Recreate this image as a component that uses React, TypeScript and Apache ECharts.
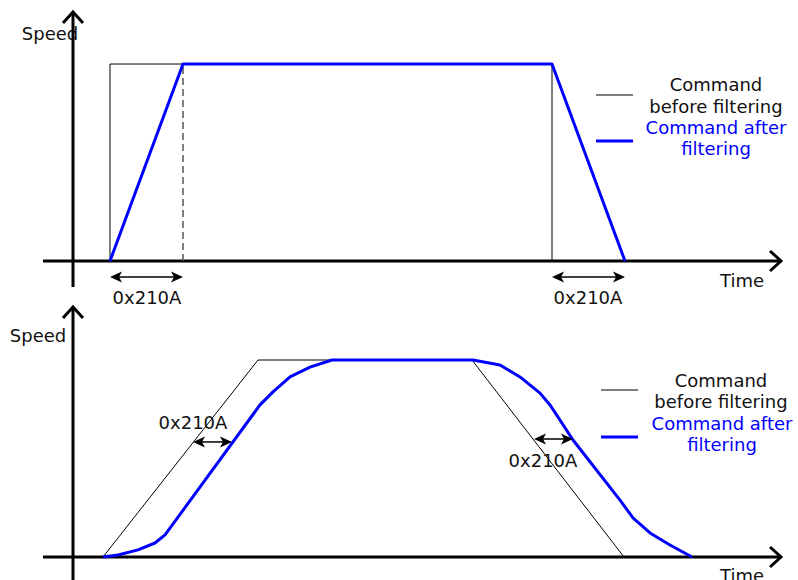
import React, { useEffect, useRef } from "react";
import * as echarts from "echarts";

// ---------- Data (time in arbitrary units from the Speed axis, speed in % of command) ----------
// Top panel: step command and its ramp-filtered version
const topCommandTime = [37, 37, 479, 479];
const topCommandSpeed = [0, 100, 100, 0];
const topFilteredTime = [37, 110, 479, 552];
const topFilteredSpeed = [0, 100, 100, 0];
const topGuideTime = [110, 110];
const topGuideSpeed = [0, 100];

// Bottom panel: trapezoid command and its S-curve filtered version
const bottomCommandTime = [30, 185, 399, 551];
const bottomCommandSpeed = [0, 100, 100, 0];
const bottomFilteredTime = [30, 45, 65, 82, 92, 187, 200, 217, 237, 259, 400, 427, 447, 467, 477, 500, 547, 560, 577, 597, 619];
const bottomFilteredSpeed = [0, 1.0, 3.6, 7.1, 11.2, 77.2, 83.8, 91.4, 96.4, 100, 100, 97.5, 91.4, 83.2, 77.2, 59.4, 28.9, 19.8, 12.2, 6.1, 0];

// Delay annotations: from time, to time, speed, label time, label speed
const delayLabel = "0x210A";
const topDelayFrom = [37, 479];
const topDelayTo = [110, 552];
const topDelaySpeed = [-8.1, -8.1];
const topDelayLabelTime = [74, 515];
const topDelayLabelSpeed = [-18.3, -18.3];
const bottomDelayFrom = [120, 461];
const bottomDelayTo = [159, 500];
const bottomDelaySpeed = [58.4, 59.9];
const bottomDelayLabelTime = [120, 470];
const bottomDelayLabelSpeed = [68.5, 49.2];

// Legend and axis texts
const legendBefore = ["Command", "before filtering"];
const legendAfter = ["Command after", "filtering"];
const speedLabel = "Speed";
const timeLabel = "Time";

const FONT = '18px "DejaVu Sans"';
const BLUE = "#0000ff";
const INK = "#111111";

const zip = (xs: number[], ys: number[]) => xs.map((x, i) => [x, ys[i]]);

function axisArrowItem(params: any, api: any) {
  const p1 = api.coord([api.value(0), api.value(1)]);
  const p2 = api.coord([api.value(2), api.value(3)]);
  const dx = p2[0] - p1[0];
  const dy = p2[1] - p1[1];
  const len = Math.hypot(dx, dy) || 1;
  const ux = dx / len;
  const uy = dy / len;
  const back = 11;
  const side = 10;
  const bx = p2[0] - ux * back;
  const by = p2[1] - uy * back;
  const a1 = [bx - uy * side, by + ux * side];
  const a2 = [bx + uy * side, by - ux * side];
  return {
    type: "group",
    children: [
      { type: "line", shape: { x1: p1[0], y1: p1[1], x2: p2[0], y2: p2[1] }, style: { stroke: "#000", lineWidth: 3 } },
      { type: "polyline", shape: { points: [a1, p2, a2] }, style: { stroke: "#000", lineWidth: 3, fill: null } },
    ],
  };
}

function delayArrowItem(params: any, api: any) {
  const a = api.coord([api.value(0), api.value(2)]);
  const b = api.coord([api.value(1), api.value(2)]);
  const t = api.coord([api.value(3), api.value(4)]);
  const head = 12;
  const half = 5.5;
  const notch = 9;
  return {
    type: "group",
    children: [
      { type: "line", shape: { x1: a[0] + notch, y1: a[1], x2: b[0] - notch, y2: b[1] }, style: { stroke: "#000", lineWidth: 1.5 } },
      {
        type: "polygon",
        shape: { points: [[a[0], a[1]], [a[0] + head, a[1] - half], [a[0] + notch, a[1]], [a[0] + head, a[1] + half]] },
        style: { fill: "#000" },
      },
      {
        type: "polygon",
        shape: { points: [[b[0], b[1]], [b[0] - head, b[1] - half], [b[0] - notch, b[1]], [b[0] - head, b[1] + half]] },
        style: { fill: "#000" },
      },
      {
        type: "text",
        x: t[0],
        y: t[1],
        style: { text: delayLabel, fill: INK, font: FONT, align: "center", verticalAlign: "middle" },
      },
    ],
  };
}

function text(str: string, x: number, y: number, color: string) {
  return {
    type: "text",
    x,
    y,
    silent: true,
    style: { text: str, fill: color, font: FONT, align: "center", verticalAlign: "middle", textAlign: "center", textVerticalAlign: "middle" },
  };
}

function hline(x1: number, x2: number, y: number, color: string, w: number) {
  return { type: "line", silent: true, shape: { x1, y1: y, x2, y2: y }, style: { stroke: color, lineWidth: w } };
}

export default function App() {
  const ref = useRef<HTMLDivElement>(null);

  useEffect(() => {
    if (!ref.current) return;
    const chart = echarts.init(ref.current, undefined, { renderer: "svg" });

    const lineBase = { type: "line", showSymbol: false, symbol: "none", silent: true, animation: false };

    const option: any = {
      animation: false,
      backgroundColor: "#ffffff",
      grid: [
        { left: 0, top: 0, width: 798, height: 300 },
        { left: 0, top: 300, width: 798, height: 280 },
      ],
      xAxis: [
        { type: "value", gridIndex: 0, min: -73, max: 725, show: false },
        { type: "value", gridIndex: 1, min: -73, max: 725, show: false },
      ],
      yAxis: [
        { type: "value", gridIndex: 0, min: -19.8, max: 132.5, show: false },
        { type: "value", gridIndex: 1, min: -11.68, max: 130.46, show: false },
      ],
      series: [
        {
          type: "custom",
          name: "axes-top",
          xAxisIndex: 0,
          yAxisIndex: 0,
          clip: false,
          silent: true,
          renderItem: axisArrowItem,
          encode: { x: [0, 2], y: [1, 3] },
          data: [[-30, 0, 708, 0], [0, -13.2, 0, 126.4]],
          z: 1,
        },
        {
          type: "custom",
          name: "axes-bottom",
          xAxisIndex: 1,
          yAxisIndex: 1,
          clip: false,
          silent: true,
          renderItem: axisArrowItem,
          encode: { x: [0, 2], y: [1, 3] },
          data: [[-30, 0, 708, 0], [0, -11.7, 0, 126.9]],
          z: 1,
        },
        {
          ...lineBase,
          name: "Guide",
          xAxisIndex: 0,
          yAxisIndex: 0,
          data: zip(topGuideTime, topGuideSpeed),
          lineStyle: { color: "#555555", width: 1.5, type: [7, 4] },
          z: 2,
        },
        {
          ...lineBase,
          name: "Command before filtering",
          xAxisIndex: 0,
          yAxisIndex: 0,
          data: zip(topCommandTime, topCommandSpeed),
          lineStyle: { color: "#000000", width: 1 },
          z: 3,
        },
        {
          ...lineBase,
          name: "Command after filtering",
          xAxisIndex: 0,
          yAxisIndex: 0,
          data: zip(topFilteredTime, topFilteredSpeed),
          lineStyle: { color: BLUE, width: 3, join: "round" },
          z: 4,
        },
        {
          ...lineBase,
          name: "Command before filtering (S)",
          xAxisIndex: 1,
          yAxisIndex: 1,
          data: zip(bottomCommandTime, bottomCommandSpeed),
          lineStyle: { color: "#000000", width: 1 },
          z: 3,
        },
        {
          ...lineBase,
          name: "Command after filtering (S)",
          xAxisIndex: 1,
          yAxisIndex: 1,
          data: zip(bottomFilteredTime, bottomFilteredSpeed),
          lineStyle: { color: BLUE, width: 3, join: "round" },
          z: 4,
        },
        {
          type: "custom",
          name: "delay-top",
          xAxisIndex: 0,
          yAxisIndex: 0,
          clip: false,
          silent: true,
          renderItem: delayArrowItem,
          encode: { x: [0, 1], y: 2 },
          data: topDelayFrom.map((f, i) => [f, topDelayTo[i], topDelaySpeed[i], topDelayLabelTime[i], topDelayLabelSpeed[i]]),
          z: 5,
        },
        {
          type: "custom",
          name: "delay-bottom",
          xAxisIndex: 1,
          yAxisIndex: 1,
          clip: false,
          silent: true,
          renderItem: delayArrowItem,
          encode: { x: [0, 1], y: 2 },
          data: bottomDelayFrom.map((f, i) => [f, bottomDelayTo[i], bottomDelaySpeed[i], bottomDelayLabelTime[i], bottomDelayLabelSpeed[i]]),
          z: 5,
        },
      ],
      graphic: [
        text(speedLabel, 50, 33, INK),
        text(speedLabel, 38, 335, INK),
        text(timeLabel, 742, 280, INK),
        text(timeLabel, 742, 575, INK),
        // top legend
        hline(596, 633, 95, "#000000", 1),
        hline(596, 633, 141, BLUE, 3),
        text(legendBefore[0], 716, 84, INK),
        text(legendBefore[1], 716, 106, INK),
        text(legendAfter[0], 716, 127, BLUE),
        text(legendAfter[1], 716, 148, BLUE),
        // bottom legend
        hline(601, 638, 390, "#000000", 1),
        hline(601, 638, 437, BLUE, 3),
        text(legendBefore[0], 721, 380, INK),
        text(legendBefore[1], 721, 401, INK),
        text(legendAfter[0], 722, 423, BLUE),
        text(legendAfter[1], 722, 444, BLUE),
      ],
    };

    chart.setOption(option);
    return () => chart.dispose();
  }, []);

  return (
    <div
      ref={ref}
      style={{ position: "fixed", left: 0, top: 0, width: 798, height: 580, background: "#fff" }}
    />
  );
}
